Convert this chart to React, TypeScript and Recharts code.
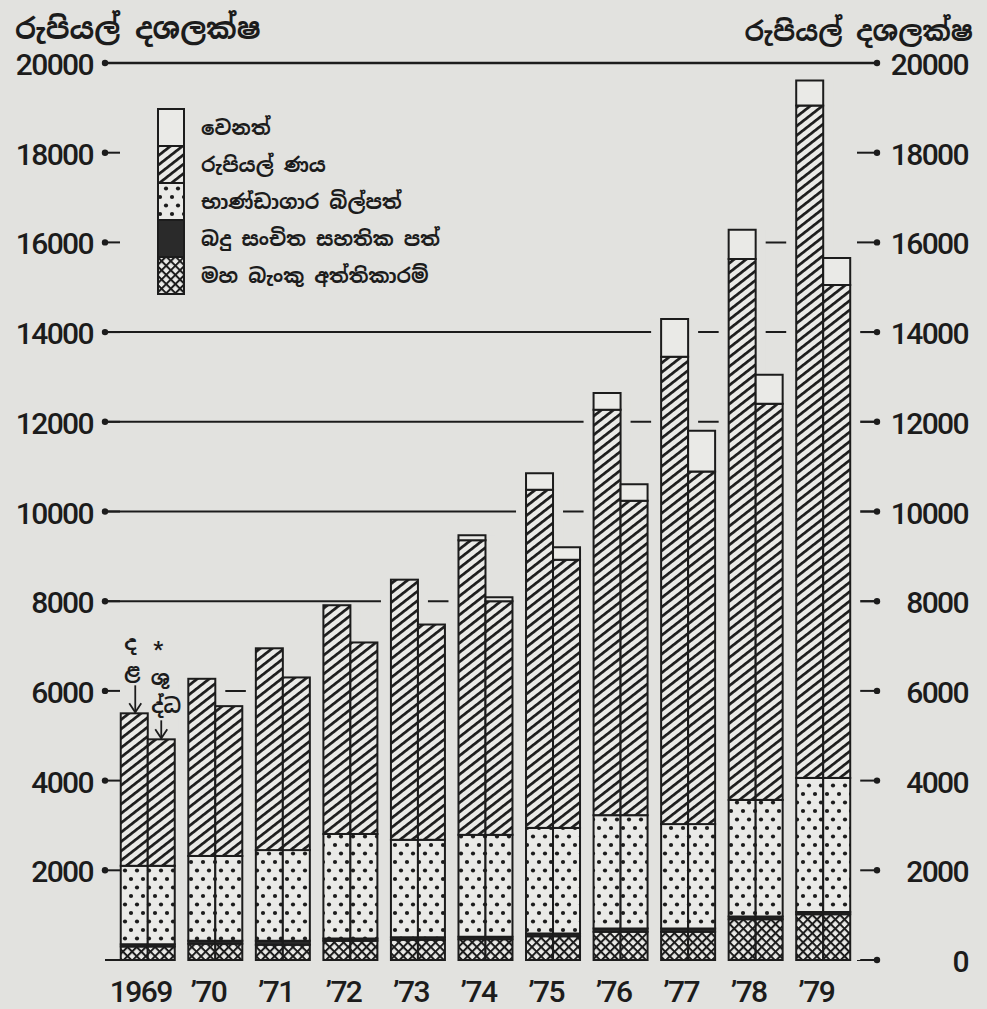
import React from "react";
import { BarChart, Bar, XAxis, YAxis, ReferenceLine, Legend } from "recharts";

// values in Rs. million
const years = ["1969", "’70", "’71", "’72", "’73", "’74", "’75", "’76", "’77", "’78", "’79"];
// the three bottom layers are the same in the gross and the net bar of a year
const centralBankAdvances = [300, 360, 340, 430, 450, 460, 530, 630, 630, 910, 1020];
const taxReserveCerts = [50, 70, 90, 50, 60, 60, 60, 70, 70, 60, 50];
const treasuryBills = [1750, 1890, 2020, 2330, 2170, 2270, 2355, 2530, 2330, 2600, 2990];
const rupeeLoansGross = [3400, 3950, 4500, 5100, 5800, 6570, 7540, 9040, 10420, 12060, 14990];
const otherGross = [0, 0, 0, 0, 0, 110, 370, 370, 840, 650, 560];
const rupeeLoansNet = [2820, 3340, 3850, 4270, 4800, 5210, 5980, 7010, 7860, 8830, 10990];
const otherNet = [0, 0, 0, 0, 0, 90, 280, 370, 910, 650, 600];

const yTicks = [0, 2000, 4000, 6000, 8000, 10000, 12000, 14000, 16000, 18000, 20000];
const fullGridLines = [8000, 10000, 12000, 14000, 20000];
const partGridLines = [
  { y: 6000, from: "’70", to: "’71" },
  { y: 16000, from: "’78", to: "’79" },
];

const unitTitle = "රුපියල් දශලක්ෂ";
const grossMark = ["ද", "ළ"];
const netMark = ["*", "ශු", "ද්ධ"];

const series = [
  { key: "cb", name: "මහ බැංකු අත්තිකාරම්", fill: "cross" },
  { key: "tax", name: "බදු සංචිත සහතික පත්", fill: "dark" },
  { key: "tb", name: "භාණ්ඩාගාර බිල්පත්", fill: "dots" },
  { key: "rl", name: "රුපියල් ණය", fill: "hatch" },
  { key: "oth", name: "වෙනත්", fill: "white" },
];

const data = years.map((year, i) => ({
  year,
  cbG: centralBankAdvances[i],
  taxG: taxReserveCerts[i],
  tbG: treasuryBills[i],
  rlG: rupeeLoansGross[i],
  othG: otherGross[i],
  cbN: centralBankAdvances[i],
  taxN: taxReserveCerts[i],
  tbN: treasuryBills[i],
  rlN: rupeeLoansNet[i],
  othN: otherNet[i],
  totalG: centralBankAdvances[i] + taxReserveCerts[i] + treasuryBills[i] + rupeeLoansGross[i] + otherGross[i],
  totalN: centralBankAdvances[i] + taxReserveCerts[i] + treasuryBills[i] + rupeeLoansNet[i] + otherNet[i],
}));

const W = 979;
const H = 1001;
const PAPER = "#e2e2df";
const LIGHT = "#eaeae7";
const INK = "#1c1c1c";
const NUM_FONT = "Roboto, 'DejaVu Sans', sans-serif";
const SIN_FONT = "'Noto Sans Sinhala', 'Iskoola Pota', 'Noto Sans', 'DejaVu Sans', sans-serif";

const margin = { top: 55, right: 0, bottom: 0, left: 0 };

function Patterns({ id }: { id: string }) {
  return (
    <defs>
      <pattern id={`${id}-hatch`} width={7.4} height={7.4} patternUnits="userSpaceOnUse" patternTransform="rotate(52)">
        <rect width={7.4} height={7.4} fill={LIGHT} />
        <rect width={2.7} height={7.4} fill={INK} />
      </pattern>
      <pattern id={`${id}-dots`} width={12} height={17} patternUnits="userSpaceOnUse">
        <rect width={12} height={17} fill={LIGHT} />
        <circle cx={3} cy={4} r={2.1} fill={INK} />
        <circle cx={9} cy={12.5} r={2.1} fill={INK} />
      </pattern>
      <pattern id={`${id}-cross`} width={6.5} height={6.5} patternUnits="userSpaceOnUse" patternTransform="rotate(45)">
        <rect width={6.5} height={6.5} fill={LIGHT} />
        <rect width={2} height={6.5} fill={INK} />
        <rect width={6.5} height={2} fill={INK} />
      </pattern>
    </defs>
  );
}

function fillFor(id: string, kind: string) {
  if (kind === "white") return LIGHT;
  if (kind === "dark") return "#2a2a2a";
  return `url(#${id}-${kind})`;
}

function Axes({ left, right, years: showYears }: { left: boolean; right: boolean; years: boolean }) {
  return (
    <>
      <XAxis
        dataKey="year"
        height={49}
        padding={{ left: 9, right: 20 }}
        axisLine={false}
        tickLine={false}
        tickSize={0}
        tickMargin={0}
        interval={0}
        tick={showYears ? <YearTick /> : false}
      />
      <YAxis
        yAxisId="left"
        orientation="left"
        width={97}
        domain={[0, 20000]}
        ticks={yTicks}
        interval={0}
        tickSize={0}
        tickMargin={0}
        axisLine={false}
        tickLine={false}
        tick={left ? <LeftTick /> : false}
      />
      <YAxis
        yAxisId="right"
        orientation="right"
        width={110}
        domain={[0, 20000]}
        ticks={yTicks}
        interval={0}
        tickSize={0}
        tickMargin={0}
        axisLine={false}
        tickLine={false}
        tick={right ? <RightTick /> : false}
      />
    </>
  );
}

function YearTick(props: any) {
  const { x, y, payload } = props;
  return (
    <text x={x - 7} y={y + 42} textAnchor="middle" fontFamily={NUM_FONT} fontWeight={500} fontSize={30} letterSpacing={-1.6} fill={INK}>
      {payload.value}
    </text>
  );
}

function LeftTick(props: any) {
  const { x, y, payload } = props;
  return (
    <g>
      <line x1={x} y1={y} x2={x + 15} y2={y} stroke={INK} strokeWidth={2} />
      {payload.value !== 0 && <circle cx={x} cy={y} r={3.2} fill={INK} />}
      {payload.value !== 0 && (
        <text x={x - 12} y={y + 12} textAnchor="end" fontFamily={NUM_FONT} fontWeight={500} fontSize={30} letterSpacing={-1.6} fill={INK}>
          {payload.value}
        </text>
      )}
    </g>
  );
}

function RightTick(props: any) {
  const { x, y, payload } = props;
  return (
    <g>
      <line x1={x - 20} y1={y} x2={x} y2={y} stroke={INK} strokeWidth={2} />
      <circle cx={x} cy={y} r={3.2} fill={INK} />
      <text x={x + 91} y={y + 12} textAnchor="end" fontFamily={NUM_FONT} fontWeight={500} fontSize={30} letterSpacing={-1.6} fill={INK}>
        {payload.value}
      </text>
    </g>
  );
}

function Arrow({ x, y1, y2 }: { x: number; y1: number; y2: number }) {
  return (
    <g stroke={INK} strokeWidth={1.8} fill="none">
      <line x1={x} y1={y1} x2={x} y2={y2} />
      <path d={`M ${x - 6} ${y2 - 9} L ${x} ${y2} L ${x + 6} ${y2 - 9}`} />
    </g>
  );
}

const markText = { fontFamily: SIN_FONT, fontSize: 20, fontWeight: 700, fill: INK, textAnchor: "middle" as const };

// rupee-loan segment; on the first year it also carries the gross / net marks
function loanShape(which: "gross" | "net") {
  return (props: any) => {
    const { x, y, width, height, fill, index, payload } = props;
    const first = index === 0 || payload?.year === years[0];
    const cx = x + width / 2;
    return (
      <g>
        <rect x={x} y={y} width={width} height={Math.max(height, 0)} fill={fill} stroke={INK} strokeWidth={2} />
        {first && which === "gross" && (
          <g>
            <text {...markText} x={cx - 4} y={y - 63}>{grossMark[0]}</text>
            <text {...markText} x={cx - 2} y={y - 35}>{grossMark[1]}</text>
            <Arrow x={cx + 1} y1={y - 28} y2={y - 1} />
          </g>
        )}
        {first && which === "net" && (
          <g>
            <text {...markText} x={cx - 3} y={y - 82} fontFamily={NUM_FONT} fontSize={22}>{netMark[0]}</text>
            <text {...markText} x={cx - 1} y={y - 54}>{netMark[1]}</text>
            <text {...markText} x={cx + 5} y={y - 26}>{netMark[2]}</text>
            <Arrow x={cx} y1={y - 19} y2={y - 1} />
          </g>
        )}
      </g>
    );
  };
}

const grossLoanShape = loanShape("gross");
const netLoanShape = loanShape("net");

function Halo(props: any) {
  const { x, y, width, height } = props;
  if (!height || height <= 0) return <g />;
  return <rect x={x - 10} y={y} width={width + 20} height={height} fill={PAPER} />;
}

function SeriesKey() {
  const rows = [...series].reverse();
  return (
    <svg width={320} height={190} style={{ overflow: "visible" }}>
      <Patterns id="key" />
      {rows.map((s, i) => (
        <g key={s.key}>
          <rect x={1} y={1 + i * 37} width={26} height={37} fill={fillFor("key", s.fill)} stroke={INK} strokeWidth={2} />
          <text x={44} y={27 + i * 37} fontFamily={SIN_FONT} fontSize={20} fontWeight={700} fill={INK}>
            {s.name}
          </text>
        </g>
      ))}
    </svg>
  );
}

const layer: React.CSSProperties = { position: "absolute", left: 0, top: 0 };

export default function App() {
  return (
    <div style={{ position: "relative", width: W, height: H }}>
      <style>{`html,body{background:${PAPER};overflow:hidden}`}</style>

      {/* grid lines and the right-hand scale */}
      <div style={layer}>
        <BarChart width={W} height={H} data={data} margin={margin} barGap={0} barCategoryGap="10%">
          <Axes left={false} right={true} years={false} />
          <Bar yAxisId="left" dataKey="totalG" fill="none" stroke="none" isAnimationActive={false} />
          <Bar yAxisId="right" dataKey="totalN" fill="none" stroke="none" isAnimationActive={false} />
          {fullGridLines.map((v) => (
            <ReferenceLine key={v} yAxisId="left" y={v} stroke={INK} strokeWidth={v === 20000 ? 2.4 : 2} />
          ))}
          {partGridLines.map((g) => (
            <ReferenceLine
              key={g.y}
              yAxisId="left"
              segment={[{ x: g.from, y: g.y }, { x: g.to, y: g.y }]}
              stroke={INK}
              strokeWidth={2}
            />
          ))}
        </BarChart>
      </div>

      {/* paper gap that breaks the grid lines around the bars */}
      <div style={layer}>
        <BarChart width={W} height={H} data={data} margin={margin} barGap={0} barCategoryGap="10%">
          <Axes left={false} right={false} years={false} />
          <Bar yAxisId="left" dataKey="totalG" fill={PAPER} shape={Halo} isAnimationActive={false} />
          <Bar yAxisId="left" dataKey="totalN" fill={PAPER} shape={Halo} isAnimationActive={false} />
        </BarChart>
      </div>

      {/* the bars themselves */}
      <div style={layer}>
        <BarChart width={W} height={H} data={data} margin={margin} barGap={0} barCategoryGap="10%">
          <Patterns id="bar" />
          <Axes left={true} right={false} years={true} />
          {series.map((s) => (
            <Bar
              key={s.key + "G"}
              yAxisId="left"
              dataKey={s.key + "G"}
              name={s.name}
              stackId="gross"
              fill={fillFor("bar", s.fill)}
              stroke={INK}
              strokeWidth={2}
              shape={s.key === "rl" ? grossLoanShape : undefined}
              isAnimationActive={false}
            />
          ))}
          {series.map((s) => (
            <Bar
              key={s.key + "N"}
              yAxisId="left"
              dataKey={s.key + "N"}
              name={s.name}
              stackId="net"
              fill={fillFor("bar", s.fill)}
              stroke={INK}
              strokeWidth={2}
              shape={s.key === "rl" ? netLoanShape : undefined}
              isAnimationActive={false}
            />
          ))}
          <Legend
            layout="horizontal"
            verticalAlign="middle"
            align="center"
            content={() => <SeriesKey />}
            wrapperStyle={{ left: 149, top: 100, width: "auto", height: "auto" }}
          />
        </BarChart>
      </div>

      <div style={{ position: "absolute", left: 7, top: 2, fontFamily: SIN_FONT, fontSize: 29, fontWeight: 700, color: INK }}>
        {unitTitle}
      </div>
      <div style={{ position: "absolute", right: 14, top: 6, fontFamily: SIN_FONT, fontSize: 27, fontWeight: 700, color: INK }}>
        {unitTitle}
      </div>
    </div>
  );
}
